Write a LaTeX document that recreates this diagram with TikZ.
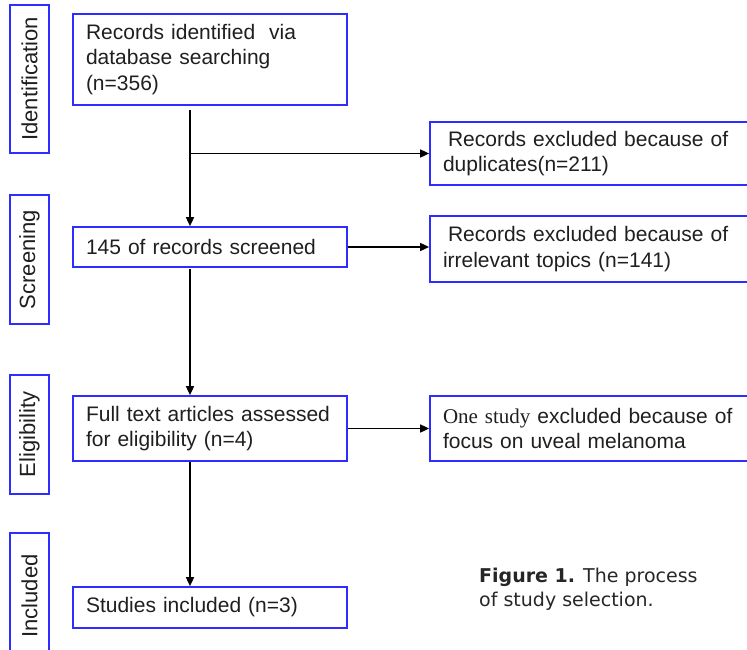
\documentclass[tikz,border=0pt]{standalone}
\usepackage{fontspec}
\setmainfont{Liberation Sans}
\newfontfamily\serifone{Liberation Serif}
\newfontfamily\capfont{DejaVu Sans}
\usetikzlibrary{arrows.meta,calc}
\definecolor{boxblue}{RGB}{45,45,255}
\begin{document}
\begin{tikzpicture}[x=1pt,y=-1pt,
  box/.style={draw=boxblue,line width=1.7pt,rectangle,inner xsep=13pt,inner ysep=0pt,
    align=left,font=\fontsize{21}{25.5}\selectfont,text=black!88},
  rbox/.style={box,text width=294pt},
  lbox/.style={box,text width=248pt},
  lbl/.style={draw=boxblue,line width=1.7pt,rectangle,minimum height=39pt,inner sep=0pt,
    rotate=90,font=\fontsize{22}{25}\selectfont,text=black!88},
  arr/.style={line width=1.6pt,-{Triangle[length=9pt,width=8pt]}},
  capstyle/.style={font=\capfont\fontsize{19}{24}\selectfont,align=left,inner sep=0pt,text=black!85}]
\useasboundingbox (0,0) rectangle (747,649);
\clip (0,0) rectangle (747,649);
% stage labels
\node[lbl,minimum width=148pt] (l1) at (29.5,79) {Identification};
\node[lbl,minimum width=129pt] (l2) at (29.5,259.5) {Screening};
\node[lbl,minimum width=119pt] (l3) at (29.5,434.5) {Eligibility};
\node[lbl,minimum width=126pt] (l4) at (29.5,596) {Included};
% main boxes
\node[lbox,minimum height=91pt] (b1) at (210,59.5) {Records identified~ via\\database searching\\(n=356)};
\node[lbox,minimum height=40pt] (b2) at (210,247) {145 of records screened};
\node[lbox,minimum height=65pt] (b3) at (210,428.5) {Full text articles assessed\\for eligibility (n=4)};
\node[lbox,minimum height=41pt] (b4) at (210,607.5) {Studies included (n=3)};
% exclusion boxes
\node[rbox,minimum height=63pt] (r1) at (590,153.5) {\hspace{5pt}Records excluded because of\\duplicates(n=211)};
\node[rbox,minimum height=66pt] (r2) at (590,249) {\hspace{5pt}Records excluded because of\\irrelevant topics (n=141)};
\node[rbox,minimum height=65pt] (r3) at (590,428.5) {{\serifone One study} excluded because of\\focus on uveal melanoma};
% caption
\node[capstyle,anchor=west] (cap) at (479,589) {{\bfseries Figure 1.} The process\\of study selection.};
% connectors
\coordinate (vx) at (190,0);
\draw[arr,shorten <=4pt] (b1.south -| vx) -- (b2.north -| vx);
\draw[arr] (vx |- r1.west) -- (r1.west);
\draw[arr] (b2.east) -- (b2.east -| r2.west);
\draw[arr,shorten <=1pt] (b2.south -| vx) -- (b3.north -| vx);
\draw[arr] (b3.east) -- (r3.west);
\draw[arr] (b3.south -| vx) -- (b4.north -| vx);
\end{tikzpicture}
\end{document}
